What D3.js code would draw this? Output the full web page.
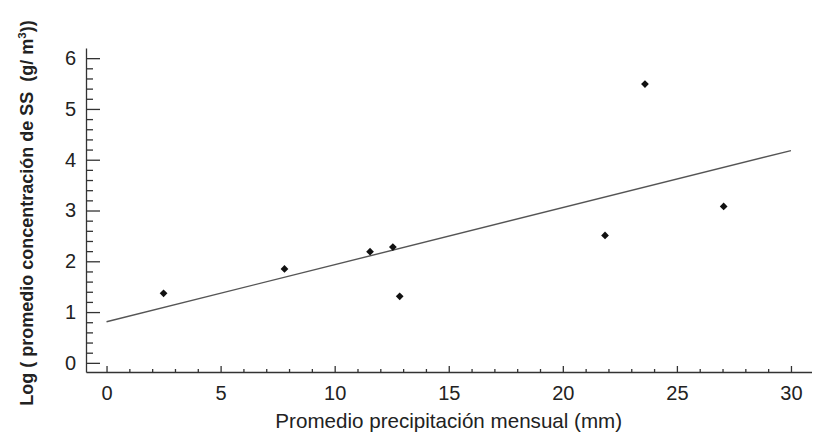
<!DOCTYPE html>
<html>
<head>
<meta charset="utf-8">
<script src="https://cdn.jsdelivr.net/npm/d3@7"></script>
<style>
  html, body { margin: 0; padding: 0; background: #fff; }
  svg { display: block; font-family: "Liberation Sans", Arial, sans-serif; }
</style>
</head>
<body>
<svg id="chart" width="835" height="438"></svg>
<script>
// Observations: mean monthly precipitation vs log of mean SS concentration
const precipitation = [2.5, 7.8, 11.55, 12.55, 12.85, 21.85, 23.6, 27.05];
const logConcentration = [1.37, 1.85, 2.19, 2.28, 1.31, 2.51, 5.49, 3.08];

// Fitted regression line, drawn between its two end points
const fitX = [0, 30];
const fitY = [0.81, 4.18];

const xMajorTicks = [0, 5, 10, 15, 20, 25, 30];
const yMajorTicks = [0, 1, 2, 3, 4, 5, 6];

const xTitle = "Promedio precipitación mensual (mm)";
const yTitleMain = "Log ( promedio concentración de SS  (g/ m";
const yTitleSup = "3";
const yTitleEnd = "))";

const svg = d3.select("#chart");
const ink = "#222";

const x = d3.scaleLinear().domain([-0.9, 30.9]).range([86, 811.5]);
const y = d3.scaleLinear().domain([-0.18, 6.2]).range([372, 48]);

const xMinor = d3.range(0, 31, 1).filter(v => v % 5 !== 0);
const yMinor = d3.range(0, 31, 1).map(v => v / 5).filter((v, i) => i % 5 !== 0);

// x axis: minor ticks, then major ticks with labels
svg.append("g")
  .attr("transform", `translate(0,${y.range()[0]})`)
  .call(d3.axisBottom(x).tickValues(xMinor).tickSize(-3).tickSizeOuter(0).tickFormat(""))
  .call(g => g.select(".domain").remove());
svg.append("g")
  .attr("transform", `translate(0,${y.range()[0]})`)
  .call(d3.axisBottom(x).tickValues(xMajorTicks).tickSize(-6).tickSizeOuter(0).tickPadding(14).tickFormat(d3.format("d")));

// y axis: minor ticks, then major ticks with labels
svg.append("g")
  .attr("transform", `translate(${x.range()[0]},0)`)
  .call(d3.axisLeft(y).tickValues(yMinor).tickSize(-7).tickSizeOuter(0).tickFormat(""))
  .call(g => g.select(".domain").remove());
svg.append("g")
  .attr("transform", `translate(${x.range()[0]},0)`)
  .call(d3.axisLeft(y).tickValues(yMajorTicks).tickSize(-14).tickSizeOuter(0).tickPadding(10).tickFormat(d3.format("d")));

svg.selectAll(".domain, .tick line").attr("stroke", "#333").attr("stroke-width", 1.3);
svg.selectAll(".tick text").attr("fill", ink).attr("font-size", 20)
  .attr("font-family", "'Liberation Sans', Arial, sans-serif");

// Regression line
svg.append("line")
  .attr("x1", x(fitX[0])).attr("y1", y(fitY[0]))
  .attr("x2", x(fitX[1])).attr("y2", y(fitY[1]))
  .attr("stroke", "#555").attr("stroke-width", 1.4);

// Data points as small diamonds
svg.append("g").selectAll("path")
  .data(precipitation.map((p, i) => [p, logConcentration[i]]))
  .join("path")
  .attr("d", d3.symbol(d3.symbolSquare, 30))
  .attr("transform", d => `translate(${x(d[0])},${y(d[1])}) rotate(45)`)
  .attr("fill", "#111");

// Axis titles
svg.append("text")
  .attr("x", (x.range()[0] + x.range()[1]) / 2)
  .attr("y", 428)
  .attr("text-anchor", "middle")
  .attr("font-size", 20.6)
  .attr("fill", ink)
  .text(xTitle);

const yt = svg.append("text")
  .attr("transform", "translate(33,213) rotate(-90)")
  .attr("text-anchor", "middle")
  .attr("font-size", 18)
  .attr("font-weight", "bold")
  .attr("fill", ink)
  .style("white-space", "pre");
yt.append("tspan").text(yTitleMain);
yt.append("tspan").attr("font-size", 11.5).attr("dy", -7).text(yTitleSup);
yt.append("tspan").attr("dy", 7).text(yTitleEnd);
</script>
</body>
</html>
